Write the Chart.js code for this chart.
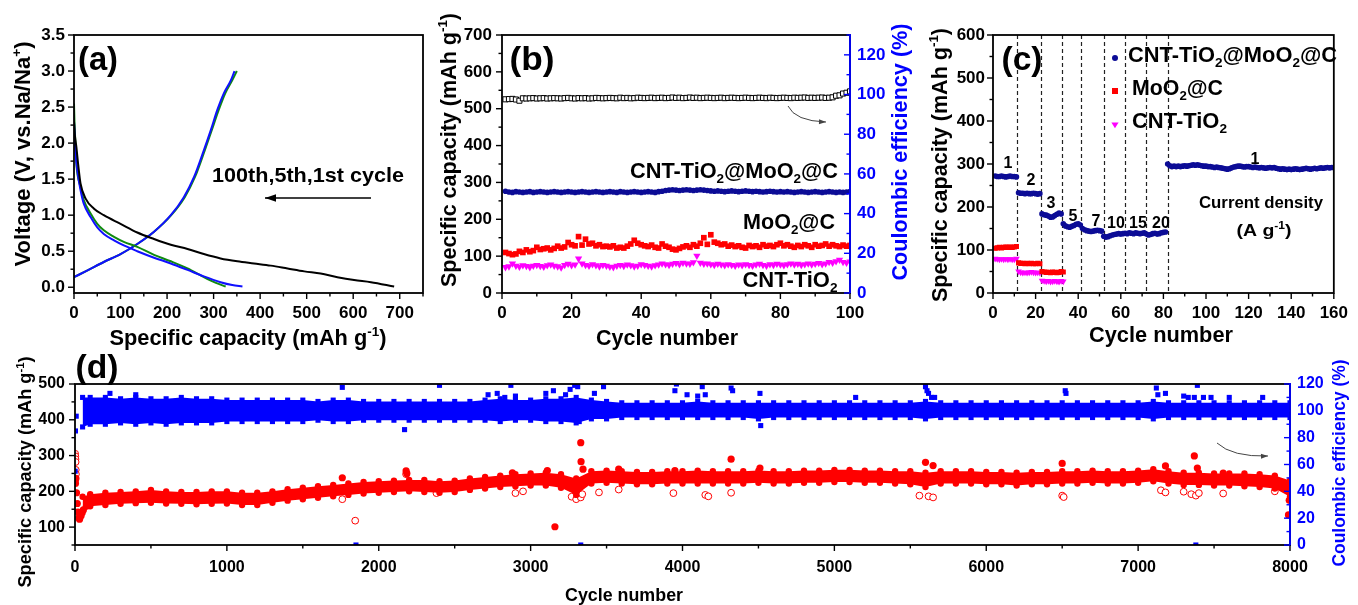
<!DOCTYPE html>
<html>
<head>
<meta charset="utf-8">
<script src="https://cdn.jsdelivr.net/npm/chart.js@4.4.1/dist/chart.umd.min.js"></script>
<style>
  html, body { margin: 0; padding: 0; background: #fff; }
  #wrap { position: relative; width: 1358px; height: 605px; overflow: hidden; background: #fff; }
  canvas { position: absolute; }
</style>
</head>
<body>
<div id="wrap">
  <canvas id="pa" width="432" height="350" style="left:0px;top:0px"></canvas>
  <canvas id="pb" width="540" height="350" style="left:380px;top:0px"></canvas>
  <canvas id="pc" width="478" height="350" style="left:880px;top:0px"></canvas>
  <canvas id="pd" width="1358" height="255" style="left:0px;top:350px"></canvas>
</div>
<script>
// ---------- (a) galvanostatic charge/discharge profiles ----------
const aDis1Cap = [0, 2, 5, 9, 14, 25, 43, 64, 100, 136, 172, 208, 244, 279, 315, 351, 387, 423, 459, 495, 530, 566, 602, 638, 688];
const aDis1V   = [2.3, 2.1, 1.95, 1.7, 1.44, 1.23, 1.09, 1.0, 0.88, 0.76, 0.67, 0.59, 0.53, 0.46, 0.40, 0.36, 0.33, 0.30, 0.26, 0.22, 0.19, 0.14, 0.10, 0.07, 0.01];
const aDisBCap = [0, 2, 4, 7, 14, 21, 36, 50, 64, 86, 107, 136, 172, 208, 244, 279, 315, 340, 362];
const aDisBV   = [2.3, 2.0, 1.8, 1.62, 1.35, 1.16, 0.97, 0.83, 0.74, 0.65, 0.58, 0.50, 0.41, 0.33, 0.24, 0.15, 0.07, 0.03, 0.01];
const aDisGCap = [0, 1, 3, 5, 14, 21, 36, 50, 64, 86, 107, 136, 172, 208, 244, 279, 305, 326];
const aDisGV   = [2.55, 2.3, 2.0, 1.72, 1.39, 1.21, 1.02, 0.88, 0.79, 0.70, 0.63, 0.56, 0.45, 0.36, 0.26, 0.14, 0.06, 0.01];
const aChgBCap = [0, 28, 64, 100, 136, 172, 208, 236, 258, 279, 294, 308, 322, 337, 345];
const aChgGCap = [0, 28, 64, 100, 136, 172, 209, 238, 260, 281, 296, 311, 325, 340, 350];
const aChgV    = [0.14, 0.23, 0.35, 0.46, 0.60, 0.77, 1.0, 1.25, 1.53, 1.90, 2.18, 2.46, 2.69, 2.87, 3.0];

// ---------- (b) cycling at constant current, cycles 1..100 ----------
const bCE = [97.6,97.7,97.8,97.5,96.9,98.1,98.0,98.1,98.2,98.0, 98.1,98.2,98.0,98.1,98.2,98.1,98.0,98.2,98.3,98.1,
  98.0,98.2,98.1,98.2,98.0,98.1,98.3,98.2,98.1,98.2, 98.3,98.2,98.1,98.4,98.2,98.3,98.1,98.2,98.4,98.3,
  98.2,98.3,98.4,98.2,98.3,98.4,98.2,98.3,98.5,98.3, 98.4,98.2,98.3,98.5,98.3,98.4,98.2,98.3,98.4,98.3,
  98.2,98.3,98.4,98.2,98.3,98.4,98.3,98.2,98.3,98.4, 98.3,98.2,98.3,98.4,98.3,98.2,98.4,98.3,98.2,98.3,
  98.4,98.3,98.2,98.4,98.3,98.4,98.5,98.3,98.4,98.3, 98.4,98.5,98.3,98.4,98.6,99.4,99.6,100.5,100.9,101.6];
const bComposite = [276,274,273,275,274,273,274,275,273,274, 275,274,273,274,275,274,273,274,275,274,
  273,274,275,274,273,274,275,274,273,274, 275,274,273,275,274,273,274,275,274,273,
  274,275,274,273,275,276,278,279,280,279, 278,279,280,279,278,279,280,279,278,277,
  276,277,276,275,276,277,276,275,276,277, 276,275,276,275,274,275,276,275,274,275,
  274,275,274,273,274,275,274,273,274,275, 274,273,274,275,274,273,274,273,274,275];
const bMoO2C = [110,107,104,106,113,110,117,112,115,124, 118,120,122,117,121,127,122,125,137,131,
  128,153,130,146,133,135,128,131,126,127, 125,128,122,124,122,127,133,143,135,131,
  128,126,130,124,122,133,127,124,119,117, 121,125,128,124,131,127,135,150,132,158,
  138,135,131,133,127,130,126,128,124,122, 129,126,128,124,131,127,129,126,131,135,
  128,131,127,124,129,126,131,128,124,131, 127,129,133,127,131,128,126,130,127,129];
const bTiO2 = [70,72,80,74,71,75,73,70,74,76, 73,71,75,77,74,72,69,76,79,75,
  77,93,80,76,74,78,75,72,76,74, 71,70,74,76,73,77,75,72,74,78,
  76,74,72,75,77,80,78,76,79,81, 78,82,80,79,83,101,82,79,80,78,
  76,79,77,75,78,76,74,77,75,78, 76,74,77,79,76,74,78,76,79,77,
  75,78,80,77,79,76,78,80,77,79, 81,78,80,84,82,86,90,84,82,85];

// ---------- (c) rate capability ----------
const cComposite = [272,271,271,272,271,270,271,272,271,271,270,
  233,232,232,231,232,231,231,232,231,230,231,
  184,182,181,179,176,177,180,183,186,184,
  161,156,154,153,155,157,160,161,158,
  150,147,145,144,143,144,145,146,145,144,
  132,130,131,133,135,136,137,138,137,138,
  139,138,140,139,138,140,139,138,139,140,
  137,135,136,138,139,137,138,140,141,142,
  300,296,294,295,294,295,294,295,296,295,
  296,297,298,297,298,297,296,295,295,294,
  294,293,292,293,292,291,290,289,288,289,
  291,293,294,295,295,294,293,294,294,293,
  292,293,292,291,292,291,290,291,292,291,
  292,290,289,288,289,288,287,288,287,288,
  289,288,287,288,289,290,289,288,289,290,
  289,290,291,290,291,292,291,292,292];
const cMoO2C = [104,105,106,105,106,107,106,107,106,107,108,
  70,69,69,68,69,68,69,68,68,69,68,
  50,49,48,48,47,49,48,47,48,50,49];
const cTiO2 = [80,79,78,79,78,79,78,79,78,78,80,
  50,48,47,48,47,48,49,48,47,48,47,
  29,28,27,28,26,27,28,27,26,28,27];
const cRateBounds = [11.5, 22.5, 32.2, 41.4, 52, 61.8, 71.6, 82];
const cRateLabels = ['1', '2', '3', '5', '7', '10', '15', '20', '1'];

// ---------- (d) long-term cycling: band edges sampled along the cycle axis ----------
const dCycles = [50,100,200,300,400,500,600,700,800,900, 1000,1100,1200,1300,1400,1500,1600,1700,1800,1900,
  2000,2100,2200,2300,2400,2500,2600,2700,2800,2900, 3000,3100,3200,3300,3400,3500,3600,3700,3800,3900,
  4000,4100,4200,4300,4400,4500,4600,4700,4800,4900, 5000,5100,5200,5300,5400,5500,5600,5700,5800,5900,
  6000,6100,6200,6300,6400,6500,6600,6700,6800,6900, 7000,7100,7200,7300,7400,7500,7600,7700,7800,7900, 8000];
const dCapHigh = [185,192,196,198,200,204,200,198,198,200, 200,196,196,200,206,210,214,218,222,226,
  228,230,232,232,228,230,236,240,244,248, 250,252,248,236,256,258,256,254,254,256,
  256,258,256,256,256,258,256,256,258,258, 260,260,258,258,256,256,252,256,256,256,
  254,254,252,254,254,256,256,258,256,256, 258,262,256,252,252,250,250,250,248,244, 230];
const dCapLow = [140,158,162,165,167,168,166,165,164,165, 166,162,162,168,174,178,182,186,190,194,
  196,198,200,198,196,198,204,208,212,214, 216,216,210,190,222,224,222,220,220,222,
  222,222,222,222,222,224,222,222,224,224, 226,226,224,224,222,220,212,222,222,222,
  220,220,216,220,220,222,222,224,222,222, 224,228,222,218,218,216,216,214,212,208, 185];
const dCEHigh = [110,110,110,109,110,109,109,110,109,109, 108,108,108,108,108,108,107,108,108,107,
  107,107,107,107,107,107,107,108,109,108, 108,109,109,110,108,107,106,106,106,106,
  106,107,106,106,106,106,106,106,106,106, 106,106,106,106,106,106,107,106,106,106,
  106,106,106,106,106,106,106,106,106,106, 106,107,106,106,106,106,106,106,106,106, 106];
const dCELow = [88,90,90,91,90,91,90,91,91,91, 92,92,92,92,92,92,93,92,92,93,
  93,93,93,93,93,93,93,93,92,93, 93,92,92,91,94,94,95,95,95,95,
  95,95,95,95,95,94,95,95,95,95, 95,95,95,95,95,95,94,95,95,95,
  95,95,95,95,95,95,95,95,95,95, 95,94,95,95,95,95,95,95,95,95, 95];
// isolated points outside the bands
const dCEOutCyc = [1,3,8,230,400,1760,1850,2170,2400,2720,2780,2830,2870,2900,3100,3150,3230,3260,3290,3310,3320,3330,3340,
  3420,3480,3950,3960,4030,4100,4130,4150,4320,4330,4510,4515,5140,5600,5610,5620,5640,5660,6520,6525,
  7120,7130,7180,7300,7330,7370,7390,7380,7430,7480,7600,7820];
const dCEOutVal = [55,85,96,113,112,117.5,0,86,119,112,113,110,119,111,113,115,112,116,119,118,92,0,97,
  113,118,115,120,112,111,118,112,117,115,113,89,110,118,115,113,110,110,115,113,
  117,112,113,111,110,110,119,0,110,110,110,110];
const dChgOutCyc = [0,3,6,10,15,20,25,30,40,55,75,1760,2180,2185,2880,3110,3160,3330,3332,3345,3580,3950,
  4320,4510,5600,5650,6500,7180,7370,7390,7560,7990,7995];
const dChgOutVal = [228,222,236,196,166,142,126,122,132,148,158,238,257,250,252,258,101,336,283,262,262,258,
  290,265,281,272,278,271,299,265,251,134,175];
const dDisOutCyc = [1,2,3,4,5,6,1760,1845,2180,2380,2900,2950,3270,3300,3330,3340,3450,3580,3940,4150,4170,4320,
  5560,5620,5650,6500,6510,7150,7180,7300,7350,7380,7400,7560,7900];
const dDisOutVal = [305,298,290,282,260,248,178,118,248,195,195,200,185,178,183,192,197,205,195,190,186,196,
  188,186,183,188,184,203,197,199,192,188,195,194,200];

// ---------- shared styling ----------
const FONT = "'Liberation Sans', Arial, Helvetica, sans-serif";
const BLUE = '#0000ff', NAVY = '#0c0c96', RED = '#ff0000', MAGENTA = '#ff00ff';
const tickFont = (s) => ({ family: FONT, size: s, weight: 'bold' });
const xy = (xs, ys) => xs.map((x, i) => ({ x: x, y: ys[i] }));
const seq = (vals) => vals.map((v, i) => ({ x: i + 1, y: v }));

// rich text: parts are strings or [text, 'sup'|'sub']
function drawRich(ctx, t, ox, oy) {
  const size = t.size, small = size * 0.62;
  ctx.save();
  let w = 0;
  const segs = t.parts.map(p => {
    const txt = Array.isArray(p) ? p[0] : p;
    const kind = Array.isArray(p) ? p[1] : '';
    const fs = kind ? small : size;
    ctx.font = 'bold ' + fs + 'px ' + FONT;
    const sw = ctx.measureText(txt).width;
    w += sw;
    return { txt, kind, fs, sw };
  });
  const sx = t.width ? t.width / w : 1;
  ctx.translate(t.x - ox, t.y - oy);
  if (t.rot) ctx.rotate(t.rot);
  ctx.scale(sx, 1);
  let x = t.align === 'left' ? 0 : -w / 2;
  ctx.fillStyle = t.color || '#000';
  ctx.textAlign = 'left';
  ctx.textBaseline = 'alphabetic';
  const base = size * 0.36;
  segs.forEach(s => {
    ctx.font = 'bold ' + s.fs + 'px ' + FONT;
    let dy = 0;
    if (s.kind === 'sup') dy = -size * 0.42;
    if (s.kind === 'sub') dy = size * 0.22;
    ctx.fillText(s.txt, x, base + dy);
    x += s.sw;
  });
  ctx.restore();
}

function arrowHead(ctx, x, y, ang, len, wid) {
  const c = Math.cos(ang), s = Math.sin(ang);
  ctx.beginPath();
  ctx.moveTo(x, y);
  ctx.lineTo(x - len * c + wid * s, y - len * s - wid * c);
  ctx.lineTo(x - len * c - wid * s, y - len * s + wid * c);
  ctx.closePath();
  ctx.fill();
}

function drawArrow(ctx, a, ox, oy) {
  ctx.save();
  ctx.strokeStyle = a.color; ctx.fillStyle = a.color; ctx.lineWidth = a.lw;
  const p0 = [a.from[0] - ox, a.from[1] - oy], p1 = [a.to[0] - ox, a.to[1] - oy];
  ctx.beginPath();
  ctx.moveTo(p0[0], p0[1]);
  let ang;
  if (a.ctrl) {
    const c = [a.ctrl[0] - ox, a.ctrl[1] - oy];
    ctx.quadraticCurveTo(c[0], c[1], p1[0], p1[1]);
    ang = Math.atan2(p1[1] - c[1], p1[0] - c[0]);
  } else {
    ctx.lineTo(p1[0], p1[1]);
    ang = Math.atan2(p1[1] - p0[1], p1[0] - p0[0]);
  }
  ctx.stroke();
  arrowHead(ctx, p1[0], p1[1], ang, a.head, a.hw);
  ctx.restore();
}

function drawMarker(ctx, m, ox, oy) {
  const x = m.x - ox, y = m.y - oy, r = m.r;
  ctx.save();
  ctx.fillStyle = m.color;
  ctx.beginPath();
  if (m.shape === 'circle') ctx.arc(x, y, r, 0, Math.PI * 2);
  else if (m.shape === 'square') ctx.rect(x - r, y - r, 2 * r, 2 * r);
  else { ctx.moveTo(x - r, y - r * 0.7); ctx.lineTo(x + r, y - r * 0.7); ctx.lineTo(x, y + r * 0.9); ctx.closePath(); }
  ctx.fill();
  ctx.restore();
}

// per-canvas frame, minor/major ticks, titles and notes
const DECO = {};
Chart.register({
  id: 'deco',
  beforeDatasetsDraw(chart) {
    const d = DECO[chart.canvas.id];
    if (!d || !d.vlines) return;
    const ctx = chart.ctx, a = chart.chartArea, xs = chart.scales.x;
    ctx.save();
    ctx.setLineDash([4, 3]);
    ctx.lineWidth = 1.2;
    ctx.strokeStyle = '#222';
    d.vlines.forEach(v => {
      const p = Math.round(xs.getPixelForValue(v)) + 0.5;
      ctx.beginPath(); ctx.moveTo(p, a.top); ctx.lineTo(p, a.bottom); ctx.stroke();
    });
    ctx.restore();
  },
  afterDraw(chart) {
    const d = DECO[chart.canvas.id];
    if (!d) return;
    const ctx = chart.ctx, a = chart.chartArea;
    ctx.save();
    ctx.lineWidth = 1.8;
    ctx.strokeStyle = '#000';
    ctx.strokeRect(a.left, a.top, a.right - a.left, a.bottom - a.top);
    if (d.rightColor) {
      ctx.strokeStyle = d.rightColor;
      ctx.beginPath(); ctx.moveTo(a.right, a.top - 0.9); ctx.lineTo(a.right, a.bottom + 0.9); ctx.stroke();
    }
    ctx.lineWidth = 1.4;
    d.ticks.forEach(t => {
      const s = chart.scales[t.scale];
      ctx.strokeStyle = t.color || '#000';
      const n = Math.round((t.to - t.from) / t.minor);
      for (let k = 0; k <= n; k++) {
        const v = t.from + k * t.minor;
        const q = v / t.major;
        const len = Math.abs(q - Math.round(q)) < 1e-6 ? 6 : 3.5;
        const p = s.getPixelForValue(v);
        ctx.beginPath();
        if (t.side === 'bottom') { ctx.moveTo(p, a.bottom); ctx.lineTo(p, a.bottom + len); }
        else if (t.side === 'left') { ctx.moveTo(a.left, p); ctx.lineTo(a.left - len, p); }
        else { ctx.moveTo(a.right, p); ctx.lineTo(a.right - len, p); }
        ctx.stroke();
      }
    });
    ctx.restore();
    (d.arrows || []).forEach(ar => drawArrow(ctx, ar, d.ox, d.oy));
    (d.markers || []).forEach(m => drawMarker(ctx, m, d.ox, d.oy));
    (d.texts || []).forEach(t => drawRich(ctx, t, d.ox, d.oy));
  }
});

const HALF = -Math.PI / 2;
const capTitle = ['Specific capacity (mAh g', ['-1', 'sup'], ')'];

function baseOptions(padding, scales) {
  return {
    responsive: false, animation: false, devicePixelRatio: 1, events: [],
    layout: { padding: padding },
    plugins: { legend: { display: false }, tooltip: { enabled: false } },
    scales: scales
  };
}
function axis(opts) {
  const o = {
    type: 'linear', min: opts.min, max: opts.max, position: opts.position,
    grid: { display: false, drawTicks: false }, border: { display: false },
    ticks: {
      stepSize: opts.step, autoSkip: false, maxRotation: 0, includeBounds: false,
      padding: opts.pad, color: opts.color || '#000', font: tickFont(opts.size || 17),
      callback: opts.fmt || (v => String(v))
    },
    afterFit: opts.fit
  };
  return o;
}

// ---------- panel (a) ----------
DECO.pa = {
  ox: 0, oy: 0,
  ticks: [
    { scale: 'x', side: 'bottom', from: 0, to: 750, major: 100, minor: 50 },
    { scale: 'y', side: 'left', from: 0, to: 3.5, major: 0.5, minor: 0.25 }
  ],
  arrows: [{ from: [371, 198], to: [265, 198], color: '#000', lw: 1.6, head: 11, hw: 3.8 }],
  texts: [
    { parts: ['(a)'], x: 98, y: 58, size: 34, width: 40 },
    { parts: ['Voltage (V, vs.Na/Na', ['+', 'sup'], ')'], x: 22, y: 154, size: 22, rot: HALF, width: 225 },
    { parts: capTitle, x: 248, y: 337, size: 22, width: 277 },
    { parts: ['100th,5th,1st cycle'], x: 308, y: 174, size: 21, width: 192 }
  ]
};
const curve = (caps, volts, color) => ({
  data: xy(caps, volts), borderColor: color, borderWidth: 2, pointRadius: 0,
  fill: false, cubicInterpolationMode: 'monotone'
});
new Chart(document.getElementById('pa'), {
  type: 'line',
  data: { datasets: [
    curve(aDis1Cap, aDis1V, '#000000'),
    curve(aDisBCap, aDisBV, '#1010ff'),
    curve(aDisGCap, aDisGV, '#108a10'),
    curve(aChgBCap, aChgV, '#1010ff'),
    curve(aChgGCap, aChgV, '#108a10')
  ] },
  options: baseOptions({ top: 35, right: 9, left: 0, bottom: 0 }, {
    x: axis({ min: 0, max: 750, step: 100, pad: 10, position: 'bottom', fit: s => { s.height = 57; } }),
    y: axis({ min: -0.08, max: 3.5, step: 0.5, pad: 9, position: 'left', fmt: v => v.toFixed(1), fit: s => { s.width = 74; } })
  })
});

// ---------- panel (b) ----------
DECO.pb = {
  ox: 380, oy: 0, rightColor: BLUE,
  ticks: [
    { scale: 'x', side: 'bottom', from: 0, to: 100, major: 20, minor: 10 },
    { scale: 'y', side: 'left', from: 0, to: 700, major: 100, minor: 50 },
    { scale: 'y1', side: 'right', from: 0, to: 130, major: 20, minor: 10, color: BLUE }
  ],
  arrows: [{ from: [788, 106], ctrl: [795, 121], to: [826, 122], color: '#444', lw: 1, head: 7, hw: 2.5 }],
  texts: [
    { parts: ['(b)'], x: 532, y: 58, size: 34, width: 45 },
    { parts: capTitle, x: 448, y: 150, size: 22, rot: HALF, width: 274 },
    { parts: ['Coulombic efficiency (%)'], x: 899, y: 152, size: 22, rot: HALF, width: 257, color: BLUE },
    { parts: ['Cycle number'], x: 667, y: 337, size: 22, width: 142 },
    { parts: ['CNT-TiO', ['2', 'sub'], '@MoO', ['2', 'sub'], '@C'], x: 734, y: 170, size: 22, width: 208 },
    { parts: ['MoO', ['2', 'sub'], '@C'], x: 789, y: 221, size: 22, width: 92 },
    { parts: ['CNT-TiO', ['2', 'sub']], x: 790, y: 279, size: 22, width: 95 }
  ]
};
new Chart(document.getElementById('pb'), {
  type: 'line',
  data: { datasets: [
    { data: seq(bCE), yAxisID: 'y1', showLine: false, pointStyle: 'rect', pointRadius: 3.6,
      pointBackgroundColor: '#fff', pointBorderColor: '#000', pointBorderWidth: 1 },
    { data: seq(bComposite), yAxisID: 'y', showLine: false, pointStyle: 'circle', pointRadius: 2.8,
      pointBackgroundColor: NAVY, pointBorderColor: NAVY, pointBorderWidth: 0 },
    { data: seq(bMoO2C), yAxisID: 'y', showLine: false, pointStyle: 'rect', pointRadius: 4,
      pointBackgroundColor: RED, pointBorderColor: RED, pointBorderWidth: 0 },
    { data: seq(bTiO2), yAxisID: 'y', showLine: false, pointStyle: 'triangle', pointRotation: 180, pointRadius: 4.2,
      pointBackgroundColor: MAGENTA, pointBorderColor: MAGENTA, pointBorderWidth: 0 }
  ] },
  options: baseOptions({ top: 35, right: 0, left: 0, bottom: 0 }, {
    x: axis({ min: 0, max: 100, step: 20, pad: 10, position: 'bottom', fit: s => { s.height = 57; } }),
    y: axis({ min: 0, max: 700, step: 100, pad: 10, position: 'left', fit: s => { s.width = 122; } }),
    y1: axis({ min: 0, max: 130, step: 20, pad: 7, position: 'right', color: BLUE, fit: s => { s.width = 70; } })
  })
});

// ---------- panel (c) ----------
const rateLabelPos = [[1008, 162], [1031, 179], [1051, 202], [1073, 215], [1096, 220], [1116, 222], [1138, 222], [1161, 222], [1255, 158]];
DECO.pc = {
  ox: 880, oy: 0, vlines: cRateBounds,
  ticks: [
    { scale: 'x', side: 'bottom', from: 0, to: 160, major: 20, minor: 10 },
    { scale: 'y', side: 'left', from: 0, to: 600, major: 100, minor: 50 }
  ],
  markers: [
    { shape: 'circle', x: 1115, y: 58, r: 3, color: NAVY },
    { shape: 'square', x: 1115, y: 91, r: 3, color: RED },
    { shape: 'triangle', x: 1115, y: 125, r: 3.6, color: MAGENTA }
  ],
  texts: [
    { parts: ['(c)'], x: 1022, y: 58, size: 34, width: 41 },
    { parts: capTitle, x: 939, y: 165, size: 22, rot: HALF, width: 274 },
    { parts: ['Cycle number'], x: 1161, y: 334, size: 22, width: 144 },
    { parts: ['CNT-TiO', ['2', 'sub'], '@MoO', ['2', 'sub'], '@C'], x: 1128, y: 54, size: 22, width: 209, align: 'left' },
    { parts: ['MoO', ['2', 'sub'], '@C'], x: 1132, y: 87, size: 22, width: 91, align: 'left' },
    { parts: ['CNT-TiO', ['2', 'sub']], x: 1132, y: 120, size: 22, width: 95, align: 'left' },
    { parts: ['Current density'], x: 1261, y: 202, size: 17, width: 124 },
    { parts: ['(A g', ['-1', 'sup'], ')'], x: 1264, y: 230, size: 17, width: 55 }
  ].concat(cRateLabels.map((t, i) => ({ parts: [t], x: rateLabelPos[i][0], y: rateLabelPos[i][1], size: 16 })))
};
new Chart(document.getElementById('pc'), {
  type: 'line',
  data: { datasets: [
    { data: seq(cComposite), showLine: false, pointStyle: 'circle', pointRadius: 2.8,
      pointBackgroundColor: NAVY, pointBorderColor: NAVY, pointBorderWidth: 0 },
    { data: seq(cMoO2C), showLine: false, pointStyle: 'rect', pointRadius: 3.6,
      pointBackgroundColor: RED, pointBorderColor: RED, pointBorderWidth: 0 },
    { data: seq(cTiO2), showLine: false, pointStyle: 'triangle', pointRotation: 180, pointRadius: 3.8,
      pointBackgroundColor: MAGENTA, pointBorderColor: MAGENTA, pointBorderWidth: 0 }
  ] },
  options: baseOptions({ top: 35, right: 16, left: 0, bottom: 0 }, {
    x: axis({ min: 0, max: 160, step: 20, pad: 10, position: 'bottom', fit: s => { s.height = 57; } }),
    y: axis({ min: 0, max: 600, step: 100, pad: 8, position: 'left', fit: s => { s.width = 113; } })
  })
});

// ---------- panel (d) ----------
DECO.pd = {
  ox: 0, oy: 350, rightColor: BLUE,
  ticks: [
    { scale: 'x', side: 'bottom', from: 0, to: 8000, major: 1000, minor: 500 },
    { scale: 'y', side: 'left', from: 50, to: 500, major: 100, minor: 50 },
    { scale: 'y1', side: 'right', from: 0, to: 120, major: 20, minor: 10, color: BLUE }
  ],
  arrows: [{ from: [1217, 443], ctrl: [1232, 457], to: [1268, 456], color: '#444', lw: 1, head: 7, hw: 2.5 }],
  texts: [
    { parts: ['(d)'], x: 97, y: 366, size: 34, width: 43 },
    { parts: capTitle, x: 25, y: 472, size: 18, rot: HALF, width: 231 },
    { parts: ['Coulombic efficiency (%)'], x: 1339, y: 463, size: 18, rot: HALF, width: 207, color: BLUE },
    { parts: ['Cycle number'], x: 624, y: 595, size: 18, width: 118 }
  ]
};
const bandEdge = (ys, axisId, color, style, r, fill) => ({
  data: xy(dCycles, ys), yAxisID: axisId, showLine: true, borderWidth: 0, borderColor: color,
  backgroundColor: color, fill: fill, tension: 0, pointStyle: style, pointRadius: r,
  pointBackgroundColor: color, pointBorderColor: color, pointBorderWidth: 0
});
new Chart(document.getElementById('pd'), {
  type: 'line',
  data: { datasets: [
    bandEdge(dCEHigh, 'y1', BLUE, 'rect', 3.6, '+1'),
    bandEdge(dCELow, 'y1', BLUE, 'rect', 3.6, false),
    { data: xy(dCEOutCyc, dCEOutVal), yAxisID: 'y1', showLine: false, pointStyle: 'rect', pointRadius: 3.6,
      pointBackgroundColor: BLUE, pointBorderColor: BLUE, pointBorderWidth: 0 },
    bandEdge(dCapHigh, 'y', RED, 'circle', 3.2, '+1'),
    bandEdge(dCapLow, 'y', RED, 'circle', 3.2, false),
    { data: xy(dChgOutCyc, dChgOutVal), yAxisID: 'y', showLine: false, pointStyle: 'circle', pointRadius: 3.6,
      pointBackgroundColor: RED, pointBorderColor: RED, pointBorderWidth: 0 },
    { data: xy(dDisOutCyc, dDisOutVal), yAxisID: 'y', showLine: false, pointStyle: 'circle', pointRadius: 3.4,
      pointBackgroundColor: '#fff', pointBorderColor: RED, pointBorderWidth: 1 }
  ] },
  options: baseOptions({ top: 34, right: 0, left: 0, bottom: 0 }, {
    x: axis({ min: 0, max: 8000, step: 1000, pad: 13, position: 'bottom', size: 16, fit: s => { s.height = 60; } }),
    y: axis({ min: 50, max: 500, step: 100, pad: 10, position: 'left', size: 16, fit: s => { s.width = 75; } }),
    y1: axis({ min: 0, max: 120, step: 20, pad: 7, position: 'right', size: 16, color: BLUE, fit: s => { s.width = 68; } })
  })
});
</script>
</body>
</html>
